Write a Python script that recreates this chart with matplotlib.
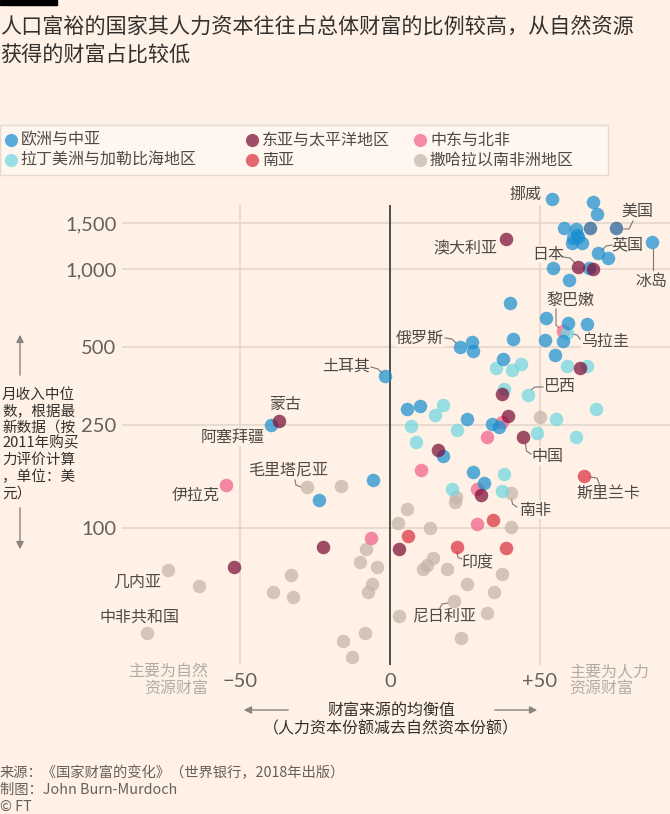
import matplotlib
matplotlib.use('Agg')
import matplotlib.pyplot as plt
from matplotlib.transforms import Affine2D
from matplotlib.patches import Rectangle, FancyArrowPatch
from matplotlib.lines import Line2D
from matplotlib.ticker import NullLocator

plt.rcParams['font.family'] = ['Noto Sans CJK SC', 'DejaVu Sans']

BG = '#fff1e5'
W, H = 670, 814

# ---- data: x = human capital share minus natural capital share, y = median monthly income ----
eca_x = [53.9, 67.6, 69.1, 58.1, 61.9, 61.1, 62.8, 63.9, 60.6, 62.2, 69.2, 72.8, 87.4, 54.2, 66.4,
         59.8, 40.0, 52.0, 59.2, 65.6, 51.7, 57.8, 23.3, 27.2, 27.8, 40.9, 55.0, 37.8, -1.7, 5.6,
         10.0, 25.6, 33.9, 36.4, 17.8, -5.6, 27.6, 31.3, -39.7, -23.8]
eca_y = [1862, 1809, 1630, 1444, 1422, 1314, 1333, 1256, 1256, 1352, 1156, 1106, 1268, 1006, 1012,
         906, 737, 647, 621, 613, 532, 529, 501, 524, 484, 537, 466, 448, 387, 287,
         295, 263, 252, 246, 189, 153, 165, 149, 250, 128]

nam_x = [66.7, 75.3]
nam_y = [1444, 1436]

eap_x = [38.7, 62.8, 67.8, 63.3, 37.4, 39.2, 44.4, 15.9, 30.2, -36.9, -22.2, -52.0, 3.0]
eap_y = [1302, 1021, 1000, 414, 328, 271, 224, 200, 134, 259, 84.2, 70.9, 83]

mena_x = [57.8, 37.2, 32.2, 10.3, 29.1, 29.1, -54.8, -6.3]
mena_y = [578, 257, 225, 168, 142, 103.5, 146.6, 91.3]

lac_x = [58.9, 35.3, 40.6, 43.6, 58.9, 65.8, 38.0, 45.9, 17.8, 15.0, 6.9, 8.7, 22.2, 48.9, 55.3,
         61.9, 68.6, 38.1, 20.8, 37.3]
lac_y = [568, 414, 408, 429, 422, 422, 343, 326, 299, 273, 248, 214, 239, 233, 263,
         224, 287, 162, 142, 139]

sa_x = [64.7, 34.2, 6.1, 22.2, 38.7]
sa_y = [159, 107, 93, 84.2, 84]

ssa_x = [50.0, 21.9, 21.8, 40.3, 5.8, 2.8, 13.2, 40.2, 14.4, 12.2, 11.1, 18.9, -4.2, 37.2, 25.6,
         34.8, 21.3, 32.2, 3.1, 23.7, -27.6, -16.4, -8.0, -74.1, -63.7, -10.0, -33.0, -38.9, -32.4, -6.1,
         -7.4, -80.9, -8.3, -15.6, -12.6]
ssa_y = [268, 132, 126, 136, 118, 105, 100, 100.7, 76.8, 72, 69.3, 69.3, 70.5, 66.4, 60.6,
         56.5, 52.4, 46.9, 45.9, 37.5, 144, 145, 83, 68.8, 59.9, 74.1, 65.9, 56.5, 54, 60.8,
         56.5, 39.2, 39.4, 36.7, 31.8]

region_names = ['欧洲与中亚', '拉丁美洲与加勒比海地区', '东亚与太平洋地区', '南亚', '中东与北非', '撒哈拉以南非洲地区']
region_colors = ['#1a8fd1', '#6fd6e2', '#7a0c35', '#d8303c', '#f0608a', '#c4b5a8']
nam_color = '#215e99'

yticks = [100, 250, 500, 1000, 1500]
ytick_labels = ['100', '250', '500', '1,000', '1,500']
xticks = [-50, 0, 50]
xtick_labels = ['\u221250', '0', '+50']

# country labels: name, text centre (px), leader polyline (px)
labels = [
    ('挪威', (525, 194), None),
    ('美国', (637, 211), [(624, 229), (629, 229), (633, 221)]),
    ('英国', (627, 245), [(602, 250), (606, 246), (612, 245)]),
    ('冰岛', (651, 281), [(652.5, 249), (652.5, 270)]),
    ('澳大利亚', (465, 249), None),
    ('日本', (548, 254), [(563, 257), (570, 258), (575, 263)]),
    ('黎巴嫩', (570, 300), [(556, 309), (556, 325), (559, 328)]),
    ('乌拉圭', (605, 341), [(572, 334), (577, 335), (580, 339)]),
    ('俄罗斯', (420, 338), [(445, 338), (452, 339), (456, 343)]),
    ('土耳其', (346, 366), [(371, 367), (378, 369), (382, 373)]),
    ('巴西', (560, 387), [(531, 390), (535, 387), (543, 387)]),
    ('中国', (547, 456), [(525.5, 444), (526.5, 451), (531, 454)]),
    ('斯里兰卡', (608, 493), [(590, 477), (597, 478), (600, 486)]),
    ('南非', (535, 510), [(511.5, 499), (512.5, 504), (517, 507)]),
    ('印度', (477, 563), [(457, 552), (458, 557.5), (462, 559)]),
    ('尼日利亚', (444, 617), [(448, 603), (442, 604), (439.5, 609)]),
    ('毛里塔尼亚', (288, 470), [(295, 480), (296, 485), (301, 487)]),
    ('蒙古', (285, 405), None),
    ('阿塞拜疆', (233, 437), None),
    ('伊拉克', (196, 495), None),
    ('几内亚', (137, 582), None),
    ('中非共和国', (139, 617), None),
]

fig = plt.figure(figsize=(W / 100, H / 100), dpi=100, facecolor=BG)
pix = Affine2D().scale(1, -1).translate(0, H)   # pixel coords from top-left

# axes placed to match the reference frame
ax_left, ax_right, ax_top, ax_bot = 122, 670, 185, 665
ax = fig.add_axes([ax_left / W, 1 - ax_bot / H, (ax_right - ax_left) / W, (ax_bot - ax_top) / H])
ax.set_facecolor(BG)
ax.set_yscale('log')
ax.set_xlim(-89.3, 93.3)
ax.set_ylim(29.6, 2109)
for s in ax.spines.values():
    s.set_visible(False)

ax.set_yticks(yticks)
ax.set_yticklabels(ytick_labels)
ax.yaxis.set_minor_locator(NullLocator())
ax.set_xticks(xticks)
ax.set_xticklabels(xtick_labels)
ax.tick_params(length=0, labelsize=14.5, labelcolor='#66605c')
ax.tick_params(axis='y', pad=4)
ax.tick_params(axis='x', pad=6)
for t in ax.get_xticklabels() + ax.get_yticklabels():
    t.set_family(['Lato', 'Noto Sans CJK SC'])

ax.grid(axis='y', color='#e2d5ca', lw=1.1, zorder=0)
ax.set_axisbelow(True)
ytop = 1766
ax.vlines([-50, 50], 29.6, ytop, color='#e2d5ca', lw=1.1, zorder=0)
ax.vlines([0], 29.6, ytop, color='#33302e', lw=1.2, zorder=1)

series = [(ssa_x, ssa_y, region_colors[5]), (mena_x, mena_y, region_colors[4]),
          (lac_x, lac_y, region_colors[1]), (eca_x, eca_y, region_colors[0]),
          (nam_x, nam_y, nam_color), (sa_x, sa_y, region_colors[3]),
          (eap_x, eap_y, region_colors[2])]
for xs, ys, c in series:
    ax.scatter(xs, ys, s=95, color=c, alpha=0.72, linewidths=0, zorder=3)

# country labels + leader lines
for name, (tx, ty), leader in labels:
    ax.text(tx, ty, name, transform=pix, ha='center', va='center', fontsize=11.5,
            color='#4e4a47', zorder=2,
            bbox=dict(fc=BG, ec='none', pad=0.3))
    if leader:
        ax.plot([p[0] for p in leader], [p[1] for p in leader], transform=pix,
                color='#7a7571', lw=0.8, zorder=2, clip_on=False)

# title
fig.add_artist(Rectangle((0, 0), 57, 4.5, transform=pix, color='#000000'))
fig.text(0, 27, '人口富裕的国家其人力资本往往占总体财富的比例较高，从自然资源', transform=pix,
         fontsize=15.2, color='#33302e', va='center', ha='left')
fig.text(0, 56, '获得的财富占比较低', transform=pix,
         fontsize=15.2, color='#33302e', va='center', ha='left')

# legend
fig.add_artist(Rectangle((0, 125), 608, 50, transform=pix, facecolor='#fff6ef',
                         edgecolor='#e6d9ce', lw=1))
leg_cols = [10.5, 252, 420]
leg_rows = [140, 160]
for i, (name, c) in enumerate(zip(region_names, region_colors)):
    lx = leg_cols[i // 2]
    ly = leg_rows[i % 2]
    fig.add_artist(Line2D([lx], [ly], transform=pix, marker='o', markersize=9.5,
                          color=c, alpha=0.72, markeredgewidth=0, linestyle='none'))
    fig.text(lx + 10, ly, name, transform=pix, fontsize=11.5, color='#4e4a47',
             va='center', ha='left')

# y-axis title
fig.text(2, 444, '月收入中位\n数，根据最\n新数据（按\n2011年购买\n力评价计算\n，单位：美\n元）',
         transform=pix, fontsize=10.5, color='#33302e', va='center', ha='left', linespacing=1.2)
arrow_kw = dict(transform=pix, arrowstyle='-|>', mutation_scale=11, color='#8a8580', lw=1)
fig.add_artist(FancyArrowPatch((20, 378), (20, 332), **arrow_kw))
fig.add_artist(FancyArrowPatch((20, 505), (20, 552), **arrow_kw))

# x-axis title
fig.text(391, 710, '财富来源的均衡值', transform=pix, fontsize=11.5, color='#33302e',
         ha='center', va='center')
fig.text(391, 729, '（人力资本份额减去自然资本份额）', transform=pix, fontsize=11.5,
         color='#33302e', ha='center', va='center')
fig.add_artist(FancyArrowPatch((291, 710), (241, 710), **arrow_kw))
fig.add_artist(FancyArrowPatch((492, 710), (540, 710), **arrow_kw))

# corner notes
fig.text(208, 680, '主要为自然\n资源财富', transform=pix, fontsize=11.5, color='#b3aca6',
         ha='right', va='center', linespacing=1.0, multialignment='right')
fig.text(569, 680, '主要为人力\n资源财富', transform=pix, fontsize=11.5, color='#b3aca6',
         ha='left', va='center', linespacing=1.0)

# footer
fig.text(0, 773, '来源：《国家财富的变化》（世界银行，2018年出版）', transform=pix,
         fontsize=10.3, color='#66605c', va='center', ha='left')
fig.text(0, 790, '制图：John Burn-Murdoch', transform=pix,
         fontsize=10.3, color='#66605c', va='center', ha='left')
fig.text(0, 807, '© FT', transform=pix, fontsize=10.3, color='#66605c', va='center',
         ha='left', style='italic')

fig.savefig('out.png', dpi=100, facecolor=BG)
